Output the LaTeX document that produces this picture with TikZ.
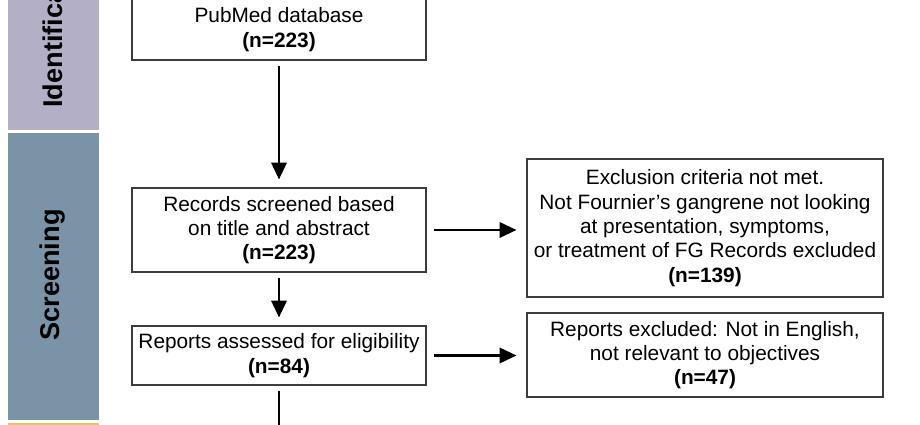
\documentclass[tikz,border=0pt]{standalone}
\usepackage{fontspec}
\setmainfont{Liberation Sans}
\usetikzlibrary{arrows.meta}
\definecolor{identcol}{RGB}{179,175,199}
\definecolor{screencol}{RGB}{122,147,167}
\definecolor{inclcol}{RGB}{240,193,97}
\definecolor{boxline}{RGB}{60,60,60}

\begin{document}
\begin{tikzpicture}[
    box/.style={draw=boxline, line width=0.8pt, align=center, inner sep=2pt,
        font=\fontsize{14.8}{17.3}\selectfont},
    flow/.style={line width=1.5pt, -{Triangle[length=12pt,width=11pt]},
        shorten <=0.125cm, shorten >=0.2cm},
    phase/.style={rotate=90, inner sep=0pt, font=\fontsize{19.3}{22}\selectfont\bfseries}
]
    \useasboundingbox (0,0) rectangle (23,10.625);

    % Phase bands
    \fill[identcol] (0.2,7.375) rectangle (2.475,11);
    \fill[screencol] (0.2,0.125) rectangle (2.475,7.3);
    \fill[inclcol] (0.2,-0.5) rectangle (2.475,0.05);
    \node[phase, anchor=west] (ident) at (1.325,7.925) {Identification};
    \node[phase] (screen) at (1.325,3.75) {Screening};

    % Main column
    \node[box, minimum width=7.35cm, minimum height=1.525cm] (pubmed) at (6.975,9.8875)
        {PubMed database\\\textbf{(n=223)}};
    \node[box, minimum width=7.35cm, minimum height=2.1cm] (screened) at (6.975,4.875)
        {Records screened based\\on title and abstract\\\textbf{(n=223)}};
    \node[box, minimum width=7.35cm, minimum height=1.475cm] (assessed) at (6.975,1.7375)
        {Reports assessed for eligibility\\\textbf{(n=84)}};

    % Exclusions
    \node[box, minimum width=8.9cm, minimum height=3.45cm] (excl1) at (17.625,4.925)
        {Exclusion criteria not met.\\Not Fournier’s gangrene not looking\\at presentation, symptoms,\\or treatment of FG Records excluded\\\textbf{(n=139)}};
    \node[box, minimum width=8.9cm, minimum height=2.1cm] (excl2) at (17.625,1.75)
        {Reports excluded: Not in English,\\not relevant to objectives\\\textbf{(n=47)}};

    % Arrows
    \draw[flow] (pubmed) -- (screened);
    \draw[flow] (screened) -- (assessed);
    \draw[flow, shorten <=0.175cm, shorten >=0.25cm] (screened.east) -- (screened.east -| excl1.west);
    \draw[flow, shorten <=0.175cm, shorten >=0.25cm] (assessed.east) -- (assessed.east -| excl2.west);
    \coordinate (next) at (6.975,0);
    \draw[line width=1.5pt, shorten <=0.125cm] (assessed) -- (next);
\end{tikzpicture}
\end{document}
